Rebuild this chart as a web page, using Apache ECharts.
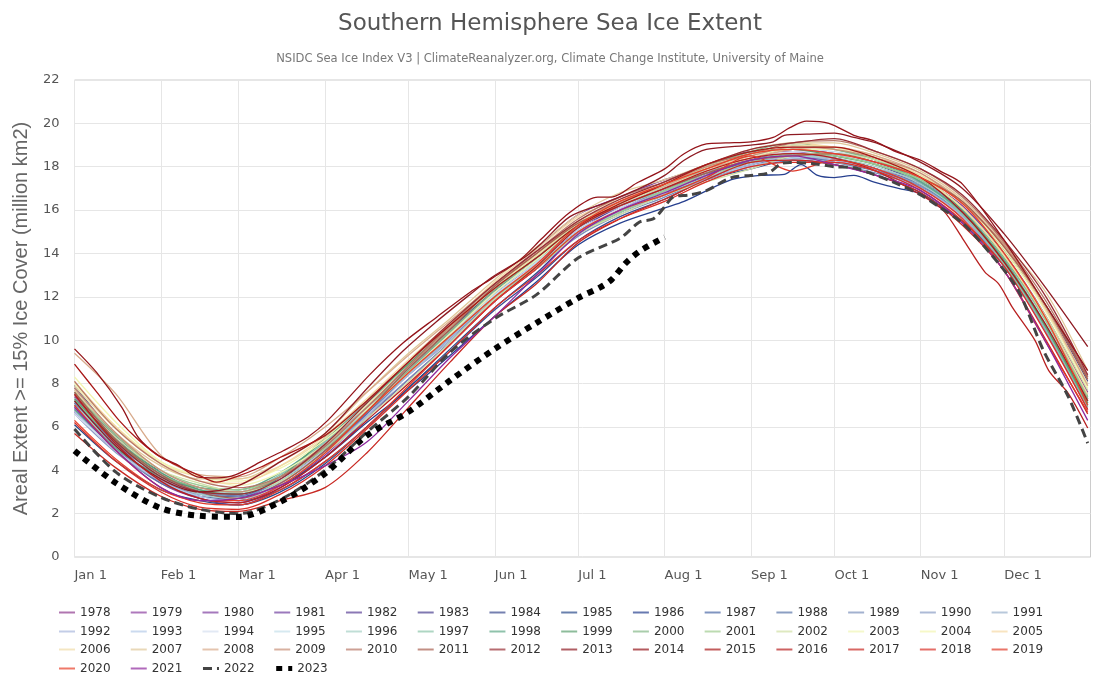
<!DOCTYPE html>
<html><head><meta charset="utf-8">
<script src="https://cdn.jsdelivr.net/npm/echarts@6/dist/echarts.min.js"></script>
<style>html,body{margin:0;padding:0;background:#fff}#c{width:1100px;height:700px}</style>
</head><body><div id="c"></div>
<script>
const monthNames = ['Jan','Feb','Mar','Apr','May','Jun','Jul','Aug','Sep','Oct','Nov','Dec'];
const monthLengths = [31,28,31,30,31,30,31,31,30,31,30,32];
const sampleDays = [0,15,31,45,59,74,90,105,120,135,151,166,181,196,212,227,243,258,273,288,304,319,334,349,364];
const y1978=[7.4,5.3,3.6,2.9,2.8,3.6,5.0,6.8,8.5,10.2,12.0,13.4,15.0,16.0,16.9,17.6,18.3,18.8,18.6,18.2,17.4,16.2,14.0,11.1,7.6];
const y1979=[7.0,5.0,3.4,2.7,2.5,3.3,4.7,6.6,8.6,10.4,12.2,13.5,15.0,16.2,16.8,17.5,18.2,18.5,18.4,17.9,17.2,15.8,13.4,10.4,6.8];
const y1980=[6.7,4.9,3.5,2.8,2.7,3.7,5.3,7.2,9.0,10.7,12.5,14.2,15.8,16.6,17.4,18.0,18.7,18.7,18.4,17.9,17.0,15.7,13.5,10.6,7.2];
const y1981=[7.1,5.2,3.5,2.7,2.4,3.2,4.6,6.4,8.2,9.9,11.8,13.3,14.9,15.9,16.7,17.6,18.4,18.8,18.6,18.1,17.3,16.1,14.2,11.4,8.0];
const y1982=[7.8,5.6,3.9,3.0,2.6,3.4,4.9,6.7,8.6,10.4,12.3,13.8,15.2,16.1,17.0,17.7,18.2,18.6,18.5,18.1,17.2,15.9,13.9,11.0,7.3];
const y1983=[7.2,5.2,3.5,2.9,2.8,3.7,5.2,7.0,8.8,10.5,12.3,13.6,15.0,16.0,16.9,17.7,18.3,18.5,18.6,18.1,17.3,16.0,14.1,11.5,8.1];
const y1984=[7.6,5.5,3.8,3.0,2.6,3.1,4.4,6.0,7.8,9.5,11.4,12.9,14.6,15.7,16.5,17.4,17.9,18.3,18.1,17.6,16.8,15.4,13.4,10.5,7.1];
const y1985=[6.1,4.4,3.1,2.6,2.4,3.0,4.3,6.0,7.8,9.6,11.5,13.1,14.9,15.9,16.8,17.6,18.3,18.6,18.4,17.9,17.1,15.9,14.1,11.6,8.3];
const y1986=[7.9,5.6,3.9,3.1,2.8,3.3,4.6,6.2,7.7,9.3,11.1,12.7,14.4,15.4,16.1,16.4,17.4,17.6,17.65,18.1,17.6,17.5,17.6,17.3,17.0,16.75,16.2,15.5,13.6,10.8,7.4];
const y1987=[7.0,5.0,3.6,3.0,2.9,3.7,5.2,6.9,8.6,10.1,11.9,13.3,14.9,15.9,16.7,17.5,18.1,18.4,18.3,17.8,17.1,15.8,13.7,10.9,7.3];
const y1988=[6.9,4.9,3.4,2.8,2.7,3.4,4.9,6.6,8.4,10.1,12.1,13.7,15.2,16.2,17.1,17.8,18.2,18.5,18.2,17.8,17.2,15.9,13.9,10.9,7.5];
const y1989=[7.1,5.2,3.7,3.0,2.8,3.5,4.9,6.5,8.2,9.9,11.9,13.3,14.8,15.8,16.6,17.4,18.0,18.3,18.1,17.7,17.0,15.7,13.6,10.7,7.2];
const y1990=[6.6,4.8,3.5,2.9,2.9,3.8,5.3,7.0,8.7,10.3,12.1,13.5,15.0,16.0,16.8,17.5,18.1,18.5,18.3,17.9,17.1,15.7,13.4,10.4,6.9];
const y1991=[6.8,5.0,3.6,3.1,3.0,3.7,5.1,6.8,8.4,10.0,11.9,13.3,15.0,15.9,16.7,17.4,18.0,18.4,18.2,17.9,17.3,15.9,13.6,10.6,7.0];
const y1992=[6.9,4.9,3.6,2.9,2.7,3.3,4.8,6.5,8.4,10.1,12.0,13.4,14.9,16.0,16.9,17.6,18.1,18.5,18.3,17.8,17.0,15.7,13.5,10.5,7.0];
const y1993=[6.7,4.9,3.5,2.8,2.6,3.4,5.0,6.8,8.6,10.3,12.2,13.6,15.1,16.0,16.8,17.6,18.0,18.4,18.5,18.1,17.4,16.0,13.8,10.9,7.1];
const y1994=[6.6,5.0,3.8,3.2,3.0,3.8,5.2,6.9,8.6,10.2,12.1,13.5,15.0,16.1,17.0,17.8,18.4,18.7,18.6,18.1,17.4,16.1,13.9,10.8,7.3];
const y1995=[7.3,5.4,3.9,3.3,3.1,3.9,5.3,7.0,8.8,10.4,12.2,13.6,15.2,16.2,17.1,17.9,18.5,18.8,18.7,18.3,17.4,16.1,13.8,10.8,7.2];
const y1996=[7.0,5.1,3.6,2.9,2.7,3.5,5.1,6.8,8.5,10.2,12.0,13.4,15.0,15.9,16.8,17.5,18.2,18.5,18.4,18.0,17.2,15.8,13.6,10.9,7.2];
const y1997=[7.2,5.3,3.7,3.1,3.0,3.8,5.3,7.1,8.8,10.4,12.2,13.7,15.2,16.2,16.9,17.7,18.3,18.6,18.5,18.1,17.3,15.8,13.5,10.5,6.9];
const y1998=[6.8,5.0,3.7,3.2,3.1,3.9,5.4,7.2,8.9,10.6,12.4,13.9,15.3,16.3,17.1,17.9,18.6,19.0,18.8,18.3,17.3,15.9,13.7,10.6,7.0];
const y1999=[7.3,5.4,3.9,3.1,2.9,3.7,5.5,7.2,8.9,10.6,12.4,13.8,15.3,16.3,17.2,18.0,18.7,18.8,18.5,18.1,17.4,16.0,13.6,10.6,7.1];
const y2000=[7.2,5.3,3.8,3.2,3.0,3.7,5.1,6.9,8.6,10.4,12.3,13.8,15.4,16.3,17.2,18.0,18.7,19.1,18.8,18.3,17.5,16.1,13.8,10.9,7.3];
const y2001=[7.6,5.6,4.0,3.3,3.1,3.7,5.0,6.7,8.5,10.2,12.0,13.4,14.9,15.9,16.9,17.6,18.2,18.6,18.5,18.1,17.4,16.1,13.9,10.9,7.4];
const y2002=[7.5,5.5,4.0,3.4,3.0,3.5,4.8,6.4,8.1,9.9,11.9,13.3,14.9,15.8,16.7,17.3,17.9,18.5,18.6,18.3,17.5,16.1,13.9,11.1,7.7];
const y2003=[8.0,6.0,4.4,3.7,3.3,3.9,5.2,6.8,8.5,10.3,12.2,13.7,15.3,16.3,17.2,17.9,18.4,18.8,18.8,18.4,17.6,16.3,14.1,11.4,8.0];
const y2004=[8.3,6.2,4.4,3.7,3.5,4.1,5.4,7.0,8.8,10.6,12.4,13.9,15.4,16.3,17.1,17.8,18.4,18.9,18.9,18.4,17.6,16.3,14.2,11.3,7.8];
const y2005=[8.1,6.0,4.3,3.5,3.4,4.2,5.6,7.3,9.1,10.8,12.7,14.2,15.7,16.5,17.2,17.9,18.5,19.1,18.9,18.5,17.5,16.1,13.9,11.0,7.5];
const y2006=[7.9,5.9,4.3,3.7,3.6,4.2,5.5,7.2,9.0,10.7,12.5,13.9,15.4,16.4,17.2,18.0,18.6,19.0,18.9,18.4,17.6,16.4,14.3,11.4,7.9];
const y2007=[7.7,5.7,4.2,3.6,3.6,4.4,5.7,7.6,9.4,11.0,12.8,14.3,15.8,16.8,17.4,18.1,18.8,19.1,19.1,18.6,17.8,16.5,14.5,12.2,8.6];
const y2008=[9.4,7.5,4.7,3.8,3.7,4.6,6.0,7.6,9.3,10.9,12.6,14.0,15.5,16.4,17.1,17.9,18.4,18.8,18.9,18.5,17.7,16.4,14.3,11.5,7.9];
const y2009=[7.8,5.7,4.0,3.2,3.0,3.7,5.2,6.9,8.8,10.6,12.5,14.0,15.5,16.4,17.2,18.0,18.5,18.9,18.8,18.4,17.7,16.3,14.4,11.6,8.2];
const y2010=[8.1,5.9,4.3,3.5,3.2,3.7,5.1,6.9,8.8,10.7,12.6,14.1,15.6,16.6,17.3,18.1,18.6,19.1,19.2,18.7,17.9,16.6,14.5,11.8,8.3];
const y2011=[7.6,5.4,3.8,3.0,2.7,3.4,4.9,6.7,8.7,10.5,12.5,14.0,15.4,16.2,17.0,17.7,18.3,18.5,18.6,18.2,17.5,16.4,14.3,11.6,8.2];
const y2012=[7.5,5.3,3.7,3.0,2.9,3.6,5.2,7.1,9.0,10.8,12.6,14.1,15.5,16.5,17.3,18.1,18.8,19.1,19.3,18.7,17.9,16.7,14.6,12.0,8.4];
const y2013=[7.2,5.1,3.6,3.0,3.3,4.4,5.7,7.9,9.5,10.85,12.1,12.9,13.85,14.5,15.7,16.3,17.0,17.6,18.3,18.8,19.0,19.15,19.45,19.5,19.55,19.35,19.1,18.2,17.0,14.9,12.4,9.7];
const y2014=[9.6,8.5,6.9,5.5,4.7,4.25,3.7,3.65,3.8,4.4,4.9,5.55,6.3,8.4,9.87,11.05,12.2,12.85,13.7,14.7,15.9,16.6,16.6,17.25,17.9,18.6,19.05,19.1,19.15,19.35,19.8,20.1,20.0,19.45,19.2,18.7,18.3,17.8,17.2,14.6,11.6,8.6];
const y2015=[8.9,7.6,6.3,5.4,4.6,3.75,3.45,3.7,4.15,4.6,5.6,7.2,9.0,10.7,12.4,13.8,15.3,16.3,17.2,18.1,18.7,18.9,18.9,18.4,17.5,15.9,13.6,10.7,7.2];
const y2016=[7.5,5.2,3.5,2.7,2.5,3.2,4.6,6.3,8.0,9.8,11.8,13.4,15.2,16.2,17.0,17.8,18.4,18.6,18.4,17.8,16.7,16.0,14.7,13.15,12.6,11.5,10.0,8.6,7.55,5.95];
const y2017=[5.7,4.1,2.8,2.2,2.1,2.6,3.2,4.8,6.9,9.0,11.1,12.6,14.5,15.6,16.5,17.4,18.2,18.3,18.1,17.6,16.8,15.3,13.2,10.0,6.6];
const y2018=[6.2,4.4,3.0,2.3,2.2,2.9,4.2,5.9,7.7,9.5,11.5,13.0,14.6,15.6,16.4,17.3,18.0,18.2,18.2,17.8,16.9,15.5,13.4,10.3,6.8];
const y2019=[7.0,4.9,3.2,2.5,2.4,3.1,4.4,6.0,7.9,9.8,11.8,13.3,15.0,16.0,16.7,17.5,18.5,17.8,18.3,17.9,17.0,15.6,13.2,9.9,6.7];
const y2020=[6.3,4.5,3.1,2.6,2.6,3.3,4.8,6.7,8.5,10.2,12.0,13.5,15.3,16.4,17.2,17.9,18.6,18.8,18.6,18.2,17.5,16.3,14.0,11.0,7.0];
const y2021=[6.9,4.9,3.2,2.6,2.7,3.3,4.2,5.3,7.2,9.2,11.1,13.0,14.9,16.0,16.8,17.6,18.3,18.5,18.1,17.6,16.9,15.4,13.2,9.9,6.3];
const y2022=[5.9,3.9,2.75,2.2,2.0,2.65,4.0,5.75,7.4,9.45,11.0,12.1,13.8,14.7,15.45,15.6,16.15,16.6,16.7,16.9,17.5,17.6,17.7,18.15,18.2,18.15,18.0,17.95,17.65,17.3,16.7,16.2,15.4,14.0,12.3,9.55,7.4,5.25];
const y2023=[4.9,3.4,2.25,1.9,1.85,2.55,3.85,5.6,6.7,8.15,9.6,10.8,11.95,12.45,12.8,13.55,14.1,14.75];
const days1986=[0,15,31,45,59,74,90,105,120,135,151,166,181,196,212,219,236,246,255,261,267,273,280,287,296,304,310,319,334,349,364];
const days2013=[0,15,31,45,59,74,90,106,118,130,142,150,162,168,178,190,203,212,219,227,243,251,255,263,273,280,288,304,319,334,349,364];
const days2014=[0,8,17,23,30,37,44,51,58,67,75,84,91,106,118,130,142,150,160,168,178,188,193,202,212,219,227,234,243,251,257,263,271,280,287,295,304,311,319,334,349,364];
const days2015=[0,8,16,23,31,45,51,58,67,74,90,105,120,135,151,166,181,196,212,227,243,258,273,288,304,319,334,349,364];
const days2016=[0,15,31,45,59,74,90,105,120,135,151,166,181,196,212,227,243,258,273,288,304,312,319,327,332,337,345,350,357,364];
const days2022=[0,15,31,45,59,74,90,105,120,135,151,166,181,196,203,208,212,215,221,227,236,243,249,254,257,265,273,280,287,294,304,310,319,329,339,348,357,364];
const days2023=[0,15,31,45,59,74,90,105,120,135,151,166,181,189,193,198,203,212];
const specialDays={1986:days1986,2013:days2013,2014:days2014,2015:days2015,2016:days2016,2022:days2022,2023:days2023};
const years=[1978,1979,1980,1981,1982,1983,1984,1985,1986,1987,1988,1989,1990,1991,1992,1993,1994,1995,1996,1997,1998,1999,2000,2001,2002,2003,2004,2005,2006,2007,2008,2009,2010,2011,2012,2013,2014,2015,2016,2017,2018,2019,2020,2021,2022,2023];
const values=[y1978,y1979,y1980,y1981,y1982,y1983,y1984,y1985,y1986,y1987,y1988,y1989,y1990,y1991,y1992,y1993,y1994,y1995,y1996,y1997,y1998,y1999,y2000,y2001,y2002,y2003,y2004,y2005,y2006,y2007,y2008,y2009,y2010,y2011,y2012,y2013,y2014,y2015,y2016,y2017,y2018,y2019,y2020,y2021,y2022,y2023];
const colors=['#8e3b8e','#8b3ea0','#7f3fa0','#7040a0','#5a3f95','#4a4090','#3a4a8f','#2a4a8a','#27408f','#4a68a5','#5a75a8','#7a90bb','#8a9cc5','#9ab0cc','#aab8dd','#b5cbe8','#d5dff0','#c5e0ea','#a5d0c5','#8cc4aa','#5fa888','#5da070','#85b888','#a0cc90','#d0e0a5','#f0f5b5','#f2f5b0','#f5d9a5','#efdca8','#e0c89a','#d8ab8c','#c89078','#b87868','#a86050','#982e35','#8e1a22','#94141a','#a81818','#b82020','#c82822','#d83028','#e03a2a','#e8402a','#8e2a9e','#444444','#000000'];

const categories=[];
monthNames.forEach((m,i)=>{for(let d=1;d<=monthLengths[i];d++)categories.push(m+' '+d);});
const isFirst=(idx,val)=>/ 1$/.test(val);
const font='"DejaVu Sans"';

const series=years.map((yr,i)=>{
  const dd=specialDays[yr]||sampleDays;
  const pts=values[i].map((v,j)=>[dd[j],v]);
  let ls={color:colors[i],width:1.3};
  if(yr===2022) ls={color:colors[i],width:3,type:[9,5]};
  if(yr===2023) ls={color:colors[i],width:6,type:[6,6]};
  return {name:String(yr),type:'line',data:pts,smooth:0.3,showSymbol:false,symbol:'none',lineStyle:ls,itemStyle:{color:colors[i]},silent:true,animation:false,z:yr>=2022?5:2};
});
const rowTops=[601.5,620.5,638.5,657.5];
const legends=[0,1,2,3].map(r=>({
  left:53,top:rowTops[r],orient:'horizontal',itemGap:19.2,itemWidth:16,itemHeight:14,selectedMode:false,
  textStyle:{fontFamily:font,fontSize:12,color:'#333'},
  data:years.slice(r*14,r*14+14).map(yr=>{
    const nm=String(yr);
    const hide={opacity:0};
    if(yr===2022) return {name:nm,itemStyle:hide,lineStyle:{width:3}};
    if(yr===2023) return {name:nm,itemStyle:hide,lineStyle:{width:5}};
    return {name:nm,itemStyle:hide,lineStyle:{width:2,opacity:0.7}};
  })
}));
const chart=echarts.init(document.getElementById('c'),null,{renderer:'canvas'});
chart.setOption({
  animation:false,backgroundColor:'#fff',color:colors,
  title:[
    {text:'Southern Hemisphere Sea Ice Extent',left:'center',top:8,textStyle:{fontFamily:font,fontSize:23,fontWeight:'normal',color:'#555'}},
    {text:'NSIDC Sea Ice Index V3 | ClimateReanalyzer.org, Climate Change Institute, University of Maine',left:'center',top:48,textStyle:{fontFamily:font,fontSize:11.55,fontWeight:'normal',color:'#777'}}
  ],
  legend:legends,
  grid:{left:74.5,right:9.5,top:80,bottom:143,show:true,borderColor:'#ccc',borderWidth:1,backgroundColor:'transparent'},
  xAxis:{type:'category',data:categories,boundaryGap:false,
    axisLine:{show:false},axisTick:{show:false},
    axisLabel:{interval:isFirst,align:'left',margin:12,fontFamily:font,fontSize:13,color:'#555',hideOverlap:false},
    splitLine:{show:true,interval:isFirst,lineStyle:{color:'#e6e6e6',width:1}}},
  yAxis:{type:'value',min:0,max:22,interval:2,
    name:'Areal Extent >= 15% Ice Cover (million km2)',nameLocation:'middle',nameGap:43,
    nameTextStyle:{fontFamily:'"Liberation Sans"',fontSize:20,color:'#666'},
    axisLine:{show:false},axisTick:{show:false},
    axisLabel:{margin:15,fontFamily:font,fontSize:13,color:'#555'},
    splitLine:{show:true,lineStyle:{color:'#e6e6e6',width:1}}},
  series:series
});
</script></body></html>
